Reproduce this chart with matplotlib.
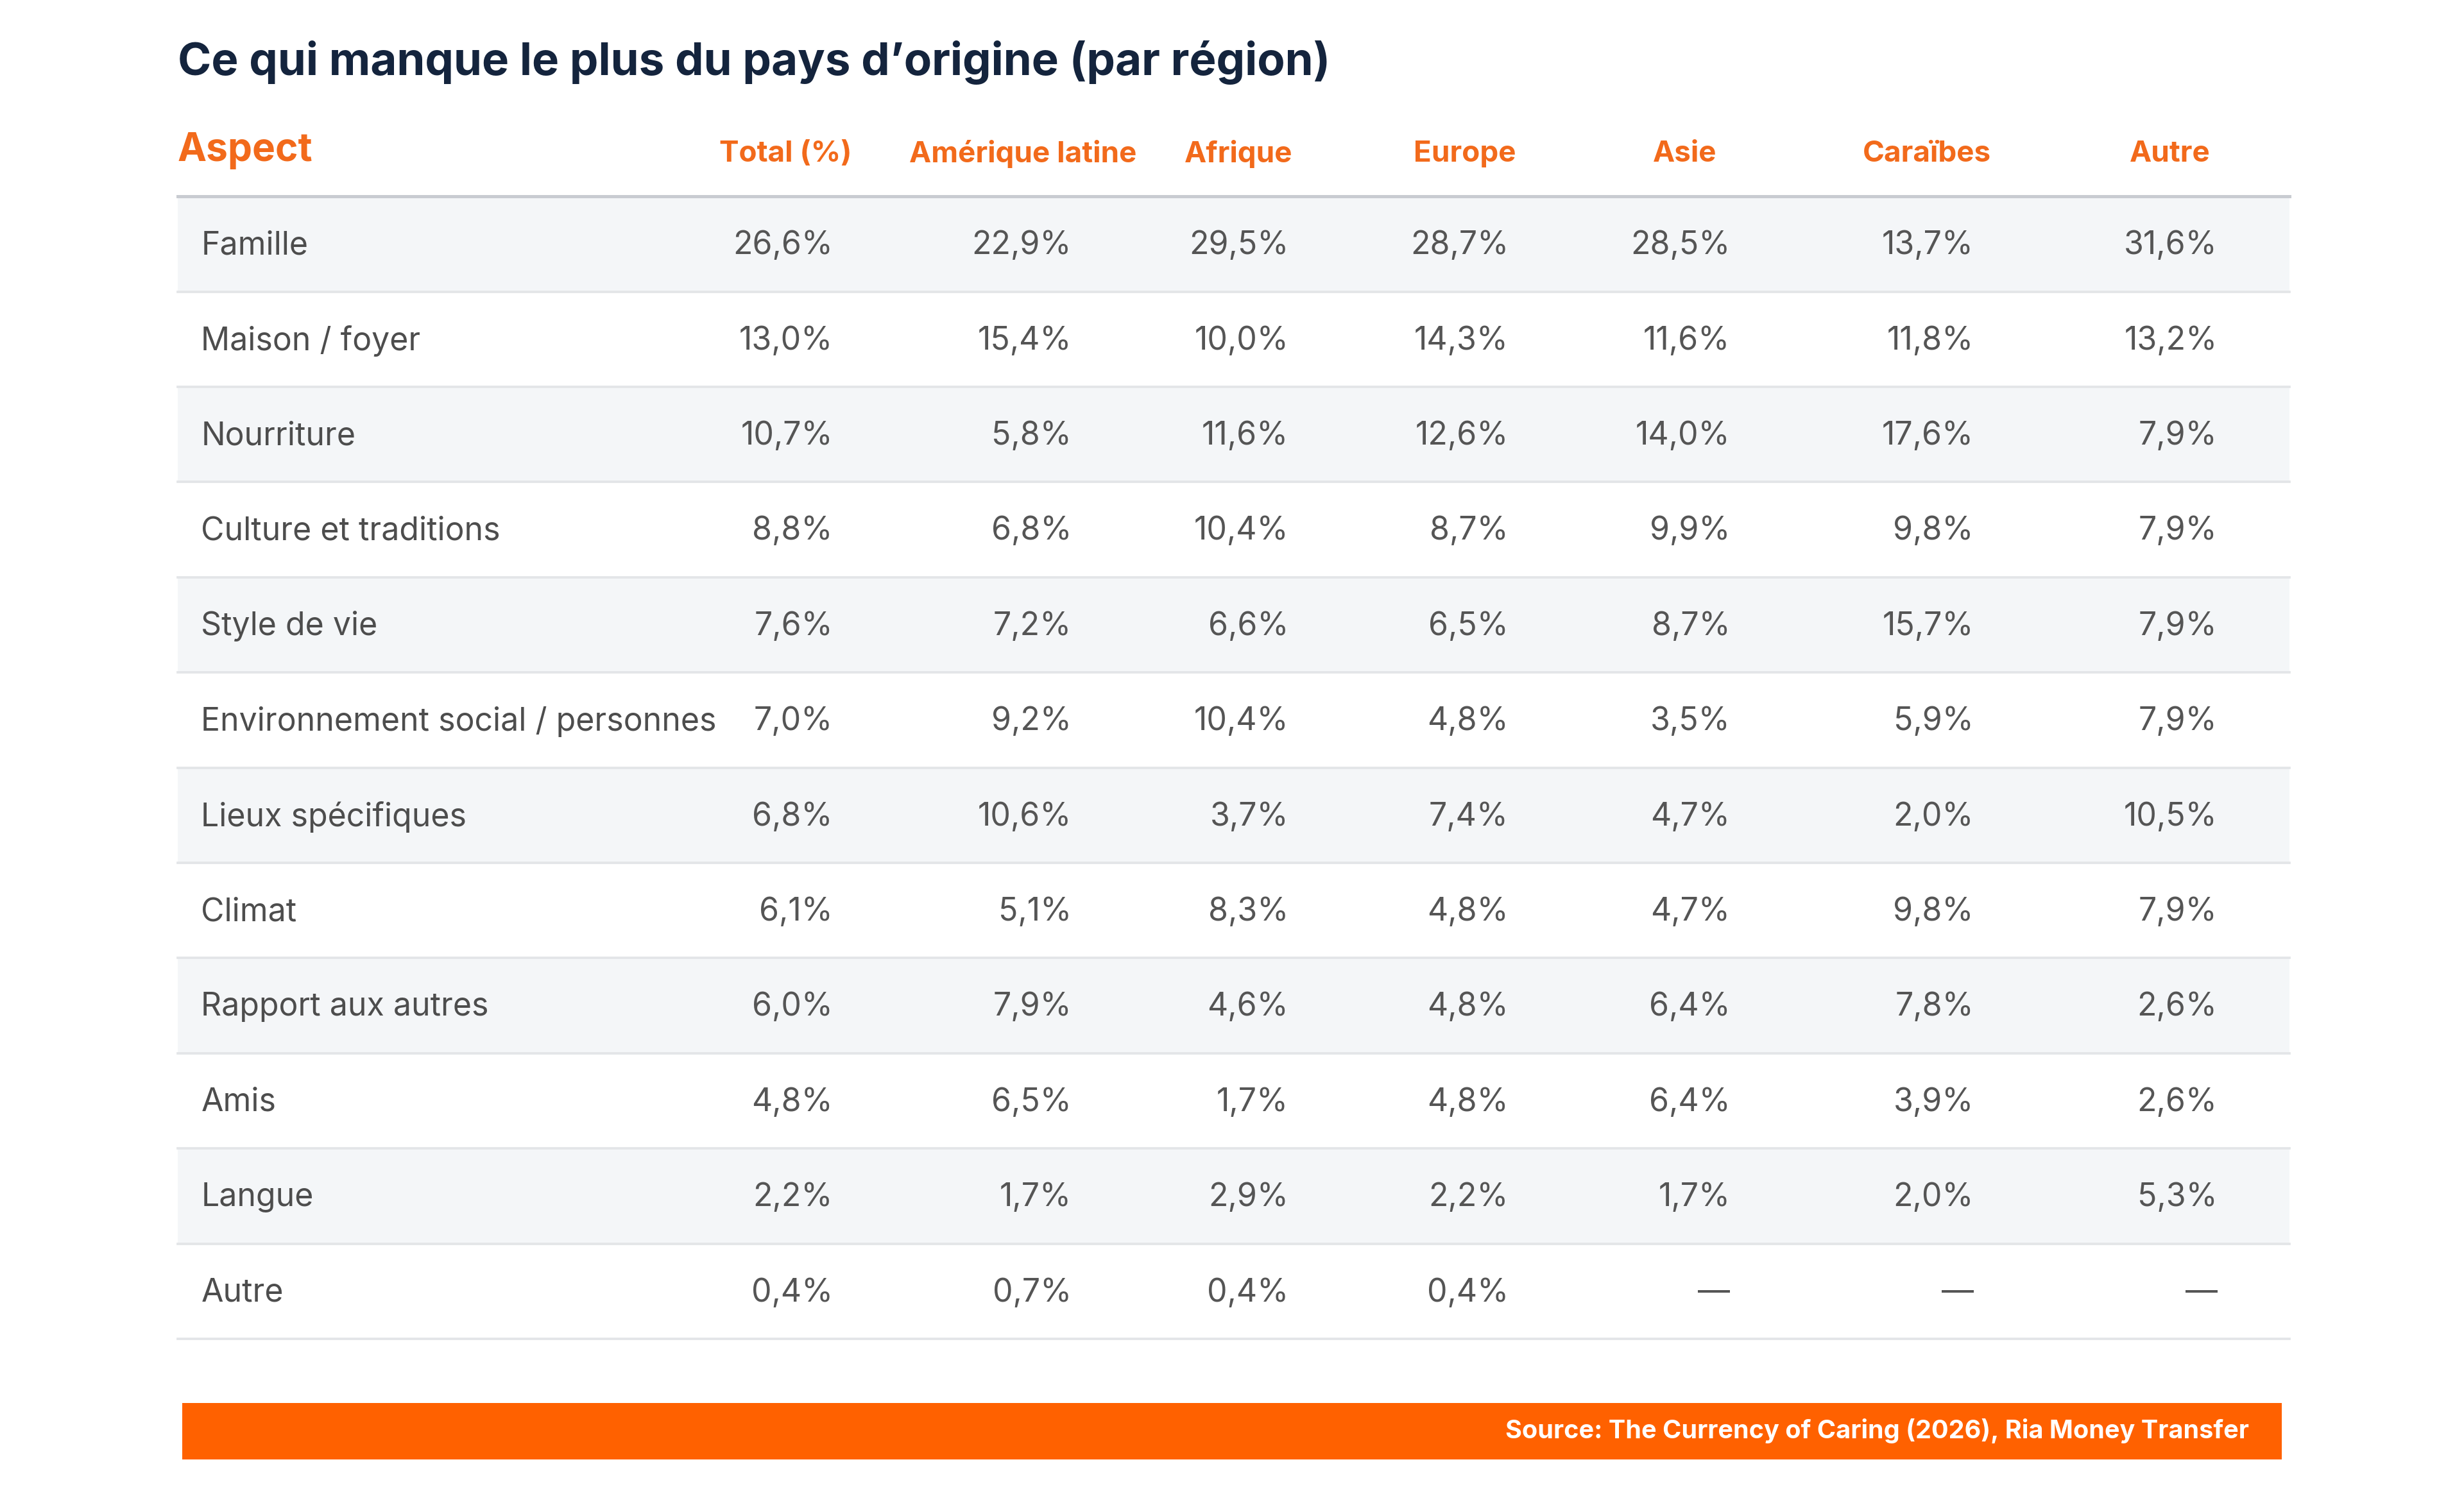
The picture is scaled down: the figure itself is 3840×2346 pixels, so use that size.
import matplotlib.pyplot as plt
from matplotlib.patches import Rectangle

plt.rcParams['font.family'] = ['Inter', 'DejaVu Sans']

title = "Ce qui manque le plus du pays d\u2019origine (par région)"
columns = ["Total (%)", "Amérique latine", "Afrique", "Europe", "Asie", "Caraïbes", "Autre"]
aspects = ["Famille", "Maison / foyer", "Nourriture", "Culture et traditions", "Style de vie",
           "Environnement social / personnes", "Lieux spécifiques", "Climat",
           "Rapport aux autres", "Amis", "Langue", "Autre"]
values = [
    ["26,6%", "22,9%", "29,5%", "28,7%", "28,5%", "13,7%", "31,6%"],
    ["13,0%", "15,4%", "10,0%", "14,3%", "11,6%", "11,8%", "13,2%"],
    ["10,7%", "5,8%", "11,6%", "12,6%", "14,0%", "17,6%", "7,9%"],
    ["8,8%", "6,8%", "10,4%", "8,7%", "9,9%", "9,8%", "7,9%"],
    ["7,6%", "7,2%", "6,6%", "6,5%", "8,7%", "15,7%", "7,9%"],
    ["7,0%", "9,2%", "10,4%", "4,8%", "3,5%", "5,9%", "7,9%"],
    ["6,8%", "10,6%", "3,7%", "7,4%", "4,7%", "2,0%", "10,5%"],
    ["6,1%", "5,1%", "8,3%", "4,8%", "4,7%", "9,8%", "7,9%"],
    ["6,0%", "7,9%", "4,6%", "4,8%", "6,4%", "7,8%", "2,6%"],
    ["4,8%", "6,5%", "1,7%", "4,8%", "6,4%", "3,9%", "2,6%"],
    ["2,2%", "1,7%", "2,9%", "2,2%", "1,7%", "2,0%", "5,3%"],
    ["0,4%", "0,7%", "0,4%", "0,4%", "\u2014", "\u2014", "\u2014"],
]
source = "Source: The Currency of Caring (2026), Ria Money Transfer"

W, H = 1568, 958  # layout units (reference pixels, scaled)
ORANGE = "#f26a1b"
fig = plt.figure(figsize=(12.8, 7.82), dpi=300)
ax = fig.add_axes([0, 0, 1, 1])
ax.set_xlim(0, W)
ax.set_ylim(H, 0)
ax.axis("off")

ax.text(113, 40, title, fontsize=17, fontweight="bold", color="#14243d", va="center")
ax.text(113, 96, "Aspect", fontsize=14.5, fontweight="bold", color=ORANGE, va="center")

header_x = [500, 651, 788, 932, 1072, 1226, 1381]
value_right = [530, 682, 820, 960, 1101, 1256, 1411]
for cx, name in zip(header_x, columns):
    ax.text(cx, 98, name, fontsize=11, fontweight="bold", color=ORANGE, ha="center", va="center")

top, rh = 125, 60.6
ax.plot([113, 1457], [top, top], color="#c9ccd1", lw=1.2)
for i, (aspect, row) in enumerate(zip(aspects, values)):
    y0 = top + i * rh
    if i % 2 == 0:
        ax.add_patch(Rectangle((113, y0), 1344, rh, color="#f4f6f8", lw=0, zorder=0))
    ax.plot([113, 1457], [y0 + rh, y0 + rh], color="#e3e5e8", lw=0.9)
    yc = y0 + rh / 2 + 1
    ax.text(128, yc, aspect, fontsize=12, color="#4d4d4d", va="center")
    for xr, v in zip(value_right, row):
        ax.text(xr, yc, v, fontsize=12, color="#555555", ha="right", va="center")

ax.add_patch(Rectangle((116, 893), 1336, 36, color="#ff6100", lw=0))
ax.text(1431, 911, source, fontsize=9.5, fontweight="bold", color="white", ha="right", va="center")

fig.savefig("out.png", dpi=300, facecolor="white")
